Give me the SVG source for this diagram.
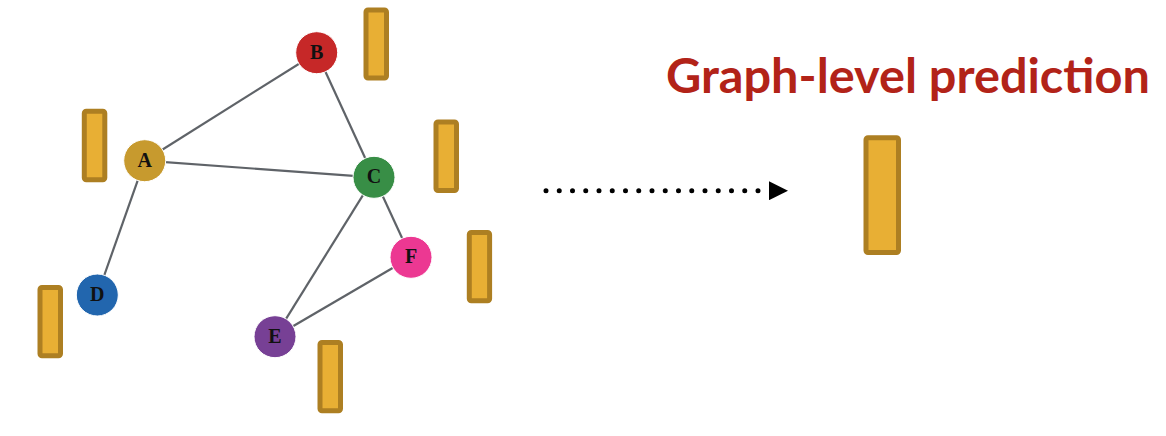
<svg xmlns="http://www.w3.org/2000/svg" width="1166" height="436" viewBox="0 0 1166 436">
<defs>
<style>
.edge{stroke:#5f6368;stroke-width:2.2;fill:none}
.node circle{stroke:#ffffff;stroke-width:1}
.lbl{font-family:"Liberation Serif",serif;font-weight:bold;font-size:20px;fill:#111;text-anchor:middle;dominant-baseline:central}
.feat{fill:#E8AF34;stroke:#AD7F22;stroke-width:5;}
.title{font-family:Lato,"Open Sans",sans-serif;font-weight:700;font-size:47px;fill:#B22318}
</style>
<marker id="tri" viewBox="0 0 10 10" refX="0" refY="5" markerWidth="19" markerHeight="19" markerUnits="userSpaceOnUse" orient="auto">
<path d="M0,0 L10,5 L0,10 Z" fill="#000"/>
</marker>
</defs>
<rect width="1166" height="436" fill="#ffffff"/>
<g id="connectors">
<line class="edge" x1="144.7" y1="160.7" x2="316.7" y2="52.7"/>
<line class="edge" x1="144.7" y1="160.7" x2="374" y2="177.3"/>
<line class="edge" x1="316.7" y1="52.7" x2="374" y2="177.3"/>
<line class="edge" x1="144.7" y1="160.7" x2="97.3" y2="295"/>
<line class="edge" x1="374" y1="177.3" x2="275" y2="336.7"/>
<line class="edge" x1="374" y1="177.3" x2="411" y2="257.3"/>
<line class="edge" x1="275" y1="336.7" x2="411" y2="257.3"/>
<line x1="546" y1="190.7" x2="762" y2="190.7" stroke="#000" stroke-width="5" stroke-linecap="round" stroke-dasharray="0 13.25"/>
<line x1="769" y1="190.7" x2="770" y2="190.7" stroke="none" marker-start="url(#tri)"/>
</g>
<g id="feat-B"><rect class="feat" x="366" y="10" width="20.5" height="68" rx="2"/></g>
<g id="feat-A"><rect class="feat" x="84.3" y="111.2" width="20.5" height="68.6" rx="2"/></g>
<g id="feat-C"><rect class="feat" x="436" y="122" width="20.5" height="68.5" rx="2"/></g>
<g id="feat-D"><rect class="feat" x="40" y="287.5" width="20.5" height="68.3" rx="2"/></g>
<g id="feat-E"><rect class="feat" x="320" y="342.5" width="20.5" height="68.3" rx="2"/></g>
<g id="feat-F"><rect class="feat" x="469.3" y="232.5" width="20.3" height="68.3" rx="2"/></g>
<g id="node-A" class="node"><circle cx="144.7" cy="160.7" r="21" fill="#C79A2E"/><text class="lbl" x="144.7" y="159.7">A</text></g>
<g id="node-B" class="node"><circle cx="316.7" cy="52.7" r="21" fill="#C62828"/><text class="lbl" x="316.7" y="51.7">B</text></g>
<g id="node-C" class="node"><circle cx="374" cy="177.3" r="21" fill="#388E46"/><text class="lbl" x="374" y="176.3">C</text></g>
<g id="node-D" class="node"><circle cx="97.3" cy="295" r="21" fill="#2266AE"/><text class="lbl" x="97.3" y="294">D</text></g>
<g id="node-E" class="node"><circle cx="275" cy="336.7" r="21" fill="#774095"/><text class="lbl" x="275" y="335.7">E</text></g>
<g id="node-F" class="node"><circle cx="411" cy="257.3" r="21" fill="#EC3892"/><text class="lbl" x="411" y="256.3">F</text></g>
<g id="output"><rect class="feat" x="866" y="137.7" width="32.5" height="114.8" rx="2"/></g>
<g id="title"><text class="title" x="666" y="92.7" textLength="484" lengthAdjust="spacingAndGlyphs">Graph-level prediction</text></g>
</svg>
